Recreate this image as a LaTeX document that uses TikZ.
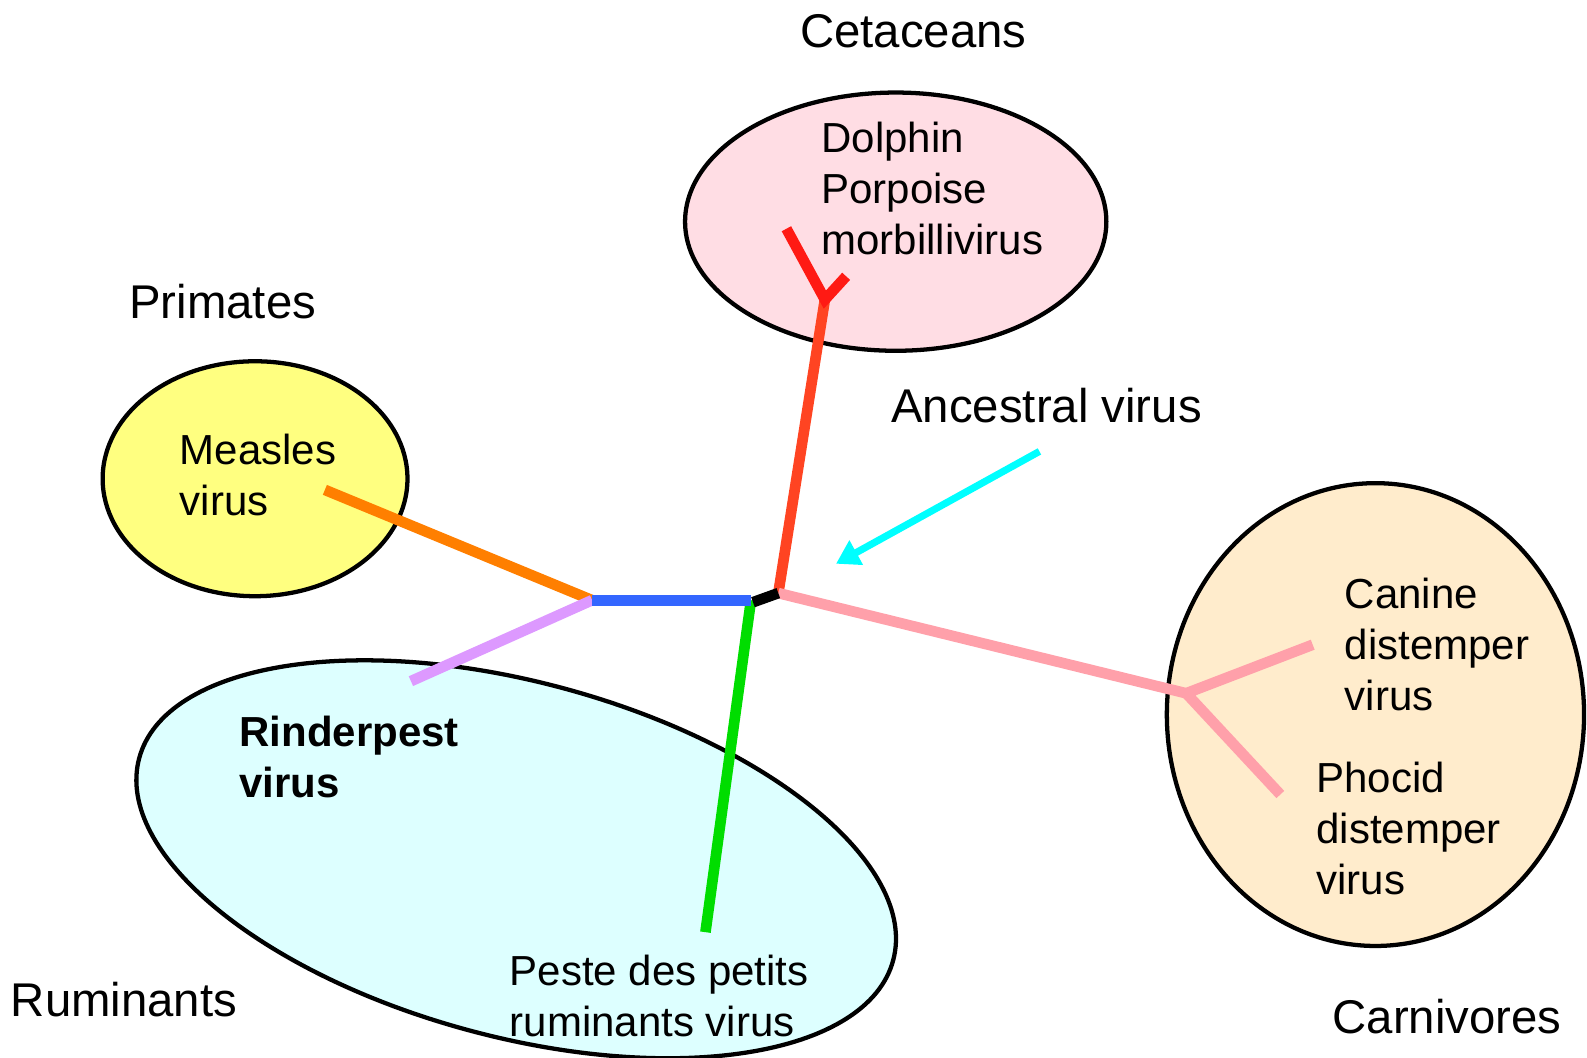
\documentclass[tikz,border=0pt]{standalone}
\usepackage{fontspec}
\setmainfont{Liberation Sans}
\usetikzlibrary{arrows.meta}
\definecolor{cetfill}{RGB}{255,221,228}
\definecolor{primfill}{RGB}{255,255,128}
\definecolor{rumfill}{RGB}{221,255,255}
\definecolor{carnfill}{RGB}{255,236,204}
\definecolor{redtrunk}{RGB}{255,68,34}
\definecolor{redfork}{RGB}{255,26,20}
\definecolor{bluebr}{RGB}{51,102,255}
\definecolor{orangebr}{RGB}{255,127,0}
\definecolor{violetbr}{RGB}{221,153,255}
\definecolor{greenbr}{RGB}{0,221,0}
\definecolor{pinkbr}{RGB}{255,160,170}
\definecolor{arrowcyan}{RGB}{0,255,255}
\begin{document}
\begin{tikzpicture}[x=0.01cm,y=-0.01cm,
  group/.style={draw=black,line width=1.2pt},
  branch/.style={line width=3pt},
  big/.style={anchor=base west,inner sep=0pt,font=\fontsize{13.3}{16}\selectfont},
  small/.style={anchor=base west,inner sep=0pt,align=left,font=\fontsize{11.8}{14.3}\selectfont},
]
\useasboundingbox (0,0) rectangle (1568,1045);
% group ellipses
\draw[group,fill=cetfill] (885,219) ellipse [x radius=2.08cm, y radius=1.275cm];
\draw[group,fill=primfill] (252,473) ellipse [x radius=1.505cm, y radius=1.16cm];
\draw[group,fill=rumfill,shift={(510,849)},rotate=-15] (0,0) ellipse [x radius=3.854cm, y radius=1.752cm];
\draw[group,fill=carnfill] (1359,706) ellipse [x radius=2.06cm, y radius=2.285cm];
% tree coordinates
\coordinate (root) at (769,586);
\coordinate (jb) at (744,595);
\coordinate (jl) at (585,593);
\coordinate (jr) at (742,593);
\coordinate (cetj) at (815,296);
\coordinate (cet1) at (777,226);
\coordinate (cet2) at (836,273);
\coordinate (meas) at (321,484);
\coordinate (rind) at (406,673);
\coordinate (ppr) at (697,921);
\coordinate (carj) at (1172,685);
\coordinate (cdv) at (1297,637);
\coordinate (pdv) at (1265,785);
\coordinate (arrs) at (1027,446);
\coordinate (arre) at (826,557);
% branches
\draw[branch,redtrunk] (root) -- (cetj);
\draw[branch,redfork] (cet1) -- (cetj) -- (cet2);
\draw[branch,pinkbr] (root) -- (carj);
\draw[branch,pinkbr] (cdv) -- (carj) -- (pdv);
\draw[branch,greenbr] (jr) -- (ppr);
\draw[branch,orangebr] (meas) -- (jl);
\draw[branch,violetbr] (jl) -- (rind);
\draw[branch,bluebr] (jl) -- (jr);
\draw[branch,black] (jb) -- (root);
\draw[line width=2pt,arrowcyan,-{Triangle[length=6.5pt,width=7.5pt]}] (arrs) -- (arre);
% labels
\node[big] (tcet) at (790,47) {Cetaceans};
\node[big] (tprim) at (127,315) {Primates};
\node[big] (tanc) at (880,417) {Ancestral virus};
\node[big] (trum) at (10,1004) {Ruminants};
\node[big] (tcarn) at (1316,1021) {Carnivores};
\node[small] (tdpm) at (811,251) {Dolphin\\Porpoise\\morbillivirus};
\node[small] (tmeas) at (177,509) {Measles\\virus};
\node[small,font=\bfseries\fontsize{11.8}{14.3}\selectfont] (trind) at (236,788) {Rinderpest\\virus};
\node[small] (tppr) at (503,1024) {Peste des petits\\ruminants virus};
\node[small] (tcdv) at (1328,702) {Canine\\distemper\\virus};
\node[small] (tpdv) at (1300,884) {Phocid\\distemper\\virus};
\end{tikzpicture}
\end{document}
